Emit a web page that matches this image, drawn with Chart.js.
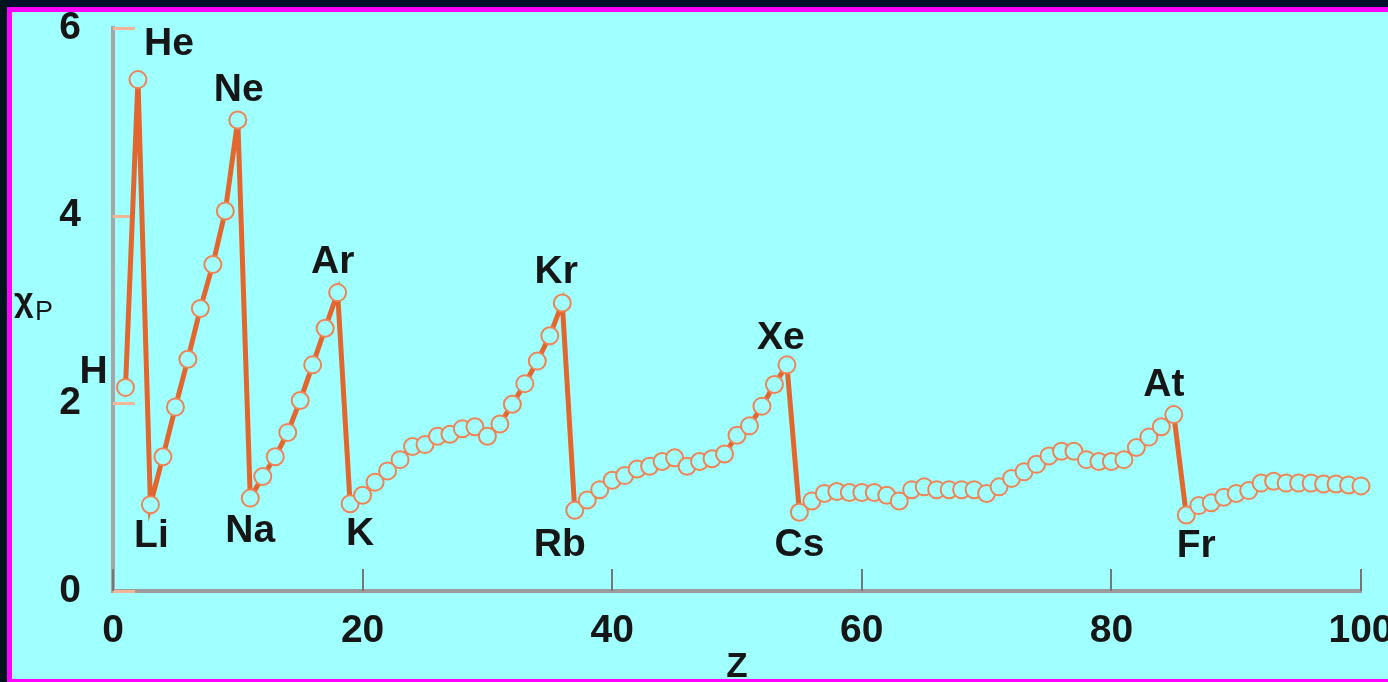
<!DOCTYPE html>
<html>
<head>
<meta charset="utf-8">
<script src="https://cdn.jsdelivr.net/npm/chart.js@4"></script>
<style>
  html, body { margin: 0; padding: 0; }
  body { width: 1388px; height: 682px; overflow: hidden; background: #a0ffff; position: relative; }
  #wrap { position: absolute; left: 0; top: 0; width: 1388px; height: 682px; z-index: 1; }
  .bd { position: absolute; z-index: 2; }
  #bTop { left: 0; top: 0; width: 1388px; height: 7px; background: #00102a; }
  #bLeft { left: 0; top: 0; width: 7px; height: 682px; background: #00141c; }
  #mTop { left: 7px; top: 7px; width: 1381px; height: 5px; background: #ff00ff; }
  #mLeft { left: 7px; top: 7px; width: 5px; height: 675px; background: #ff00ff; }
  #mBottom { left: 7px; top: 679px; width: 1381px; height: 3px; background: #ff00ff; }
</style>
</head>
<body>
<div id="wrap"><canvas id="c" width="1388" height="682"></canvas></div>
<div class="bd" id="bTop"></div>
<div class="bd" id="bLeft"></div>
<div class="bd" id="mTop"></div>
<div class="bd" id="mLeft"></div>
<div class="bd" id="mBottom"></div>
<script>
// ---- data ----
const atomicNumbers = [
  1,2,3,4,5,6,7,8,9,10,
  11,12,13,14,15,16,17,18,19,20,
  21,22,23,24,25,26,27,28,29,30,
  31,32,33,34,35,36,37,38,39,40,
  41,42,43,44,45,46,47,48,49,50,
  51,52,53,54,55,56,57,58,59,60,
  61,62,63,64,65,66,67,68,69,70,
  71,72,73,74,75,76,77,78,79,80,
  81,82,83,84,85,86,87,88,89,90,
  91,92,93,94,95,96,97,98,99,100
];
const chiValues = [
  2.17,5.45,0.92,1.43,1.96,2.47,3.01,3.48,4.05,5.02,
  0.99,1.22,1.43,1.69,2.03,2.41,2.80,3.18,0.93,1.02,
  1.16,1.28,1.40,1.54,1.56,1.65,1.67,1.73,1.75,1.65,
  1.78,1.99,2.21,2.45,2.72,3.07,0.86,0.97,1.08,1.18,
  1.23,1.30,1.33,1.38,1.42,1.33,1.38,1.41,1.46,1.66,
  1.76,1.97,2.20,2.41,0.84,0.96,1.04,1.06,1.05,1.05,
  1.05,1.02,0.96,1.08,1.11,1.08,1.08,1.08,1.08,1.04,
  1.11,1.20,1.27,1.35,1.44,1.49,1.49,1.40,1.38,1.38,
  1.40,1.53,1.64,1.75,1.88,0.81,0.91,0.94,1.00,1.04,
  1.07,1.15,1.17,1.15,1.15,1.15,1.14,1.14,1.13,1.12
];
const labelSymbols = ["H","He","Li","Ne","Na","Ar","K","Kr","Rb","Xe","Cs","At","Fr"];
const labelZ       = [1, 2, 3, 10, 11, 18, 19, 36, 37, 54, 55, 85, 86];
const xTickValues = [0, 20, 40, 60, 80, 100];
const yTickValues = [0, 2, 4, 6];
const xTitle = "Z";
const yTitleMain = "\u03C7";
const yTitleSub = "P";

// ---- styling (positions / sizes kept apart from data) ----
const FONT = "'Liberation Sans', Arial, sans-serif";
const TEXT = "#161616";
const labelOffsets = {
  H:[-32,-15], He:[31,-35], Li:[1,32], Ne:[1,-30], Na:[0,33], Ar:[-5,-30],
  K:[10,31], Kr:[-6,-31], Rb:[-15,35], Xe:[-6,-27], Cs:[0,33], At:[-10,-29], Fr:[10,31]
};

const points = atomicNumbers.map((z, i) => ({ x: z, y: chiValues[i] }));

const decoPlugin = {
  id: 'deco',
  beforeDatasetsDraw(chart) {
    const ctx = chart.ctx, xs = chart.scales.x, ys = chart.scales.y, ca = chart.chartArea;
    ctx.save();
    ctx.strokeStyle = '#f3b595'; ctx.lineWidth = 3;
    yTickValues.forEach(v => {
      const y = Math.round(ys.getPixelForValue(v)) + 0.5;
      ctx.beginPath(); ctx.moveTo(ca.left, y); ctx.lineTo(ca.left + 22, y); ctx.stroke();
    });
    ctx.strokeStyle = '#767676'; ctx.lineWidth = 2;
    xTickValues.forEach(v => {
      const x = Math.round(xs.getPixelForValue(v));
      ctx.beginPath(); ctx.moveTo(x, ca.bottom); ctx.lineTo(x, ca.bottom - 22); ctx.stroke();
    });
    ctx.restore();
  },
  afterDatasetsDraw(chart) {
    const ctx = chart.ctx, xs = chart.scales.x, ys = chart.scales.y, ca = chart.chartArea;
    ctx.save();
    ctx.fillStyle = TEXT;
    ctx.font = "bold 39px " + FONT;
    ctx.textAlign = 'center'; ctx.textBaseline = 'middle';
    labelSymbols.forEach((s, i) => {
      const z = labelZ[i];
      const idx = atomicNumbers.indexOf(z);
      const px = xs.getPixelForValue(z), py = ys.getPixelForValue(chiValues[idx]);
      const o = labelOffsets[s] || [0, 0];
      ctx.fillText(s, px + o[0], py + o[1]);
    });
    ctx.textAlign = 'left'; ctx.textBaseline = 'alphabetic';
    ctx.font = "bold 34px " + FONT;
    ctx.fillText(yTitleMain, ca.left - 99, 311);
    ctx.font = "27px " + FONT;
    ctx.fillText(yTitleSub, ca.left - 78, 320);
    ctx.restore();
  }
};

new Chart(document.getElementById('c'), {
  type: 'line',
  data: {
    datasets: [{
      data: points,
      borderColor: '#e2662e',
      borderWidth: 5,
      tension: 0,
      pointRadius: 8.5,
      pointBorderWidth: 2,
      pointBorderColor: '#ee8456',
      pointBackgroundColor: '#a0ffff',
      clip: false
    }]
  },
  options: {
    responsive: false,
    animation: false,
    events: [],
    layout: { padding: { top: 28, right: 27, bottom: 0, left: 0 } },
    plugins: { legend: { display: false }, tooltip: { enabled: false }, title: { display: false } },
    scales: {
      x: {
        type: 'linear', min: 0, max: 100,
        afterBuildTicks(scale) { scale.ticks = xTickValues.map(v => ({ value: v })); },
        afterFit(scale) { scale.height = 91; scale.paddingLeft = 0; scale.paddingRight = 0; },
        grid: { display: false },
        border: { display: true, color: '#9c9c9c', width: 4 },
        ticks: { color: TEXT, font: { family: FONT, size: 39, weight: 'bold' }, padding: 9, maxRotation: 0, autoSkip: false },
        title: { display: true, text: xTitle, color: TEXT, font: { family: FONT, size: 35, weight: 'bold', lineHeight: 1 }, padding: { top: 0, bottom: -3 } }
      },
      y: {
        type: 'linear', min: 0, max: 6,
        afterBuildTicks(scale) { scale.ticks = yTickValues.map(v => ({ value: v })); },
        afterFit(scale) { scale.width = 113; scale.paddingTop = 0; scale.paddingBottom = 0; },
        grid: { display: false },
        border: { display: true, color: '#a6a6a6', width: 4 },
        ticks: { color: TEXT, font: { family: FONT, size: 39, weight: 'bold' }, padding: 24 }
      }
    }
  },
  plugins: [decoPlugin]
});
</script>
</body>
</html>
